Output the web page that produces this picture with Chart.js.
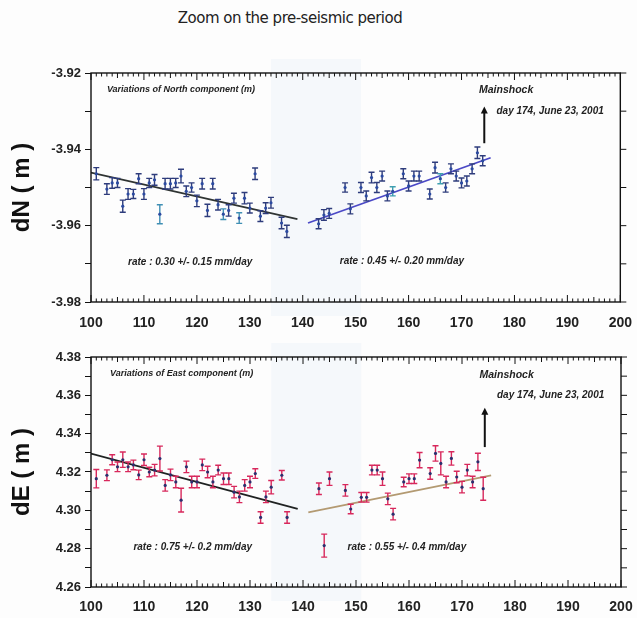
<!DOCTYPE html>
<html>
<head>
<meta charset="utf-8">
<script src="https://cdn.jsdelivr.net/npm/chart.js@4/dist/chart.umd.min.js"></script>
<style>
  body { margin: 0; background: #fdfdfd; }
  #wrap { position: relative; width: 637px; height: 618px; overflow: hidden; }
  #wrap canvas { position: absolute; left: 0; top: 0; }
  #title { position: absolute; left: 0; width: 580px; top: 9px; text-align: center;
           font: 15px "DejaVu Sans", sans-serif; color: #222; letter-spacing: -0.5px; }
</style>
</head>
<body>
<div id="wrap">
  <div id="title">Zoom on the pre-seismic period</div>
  <canvas id="north" width="637" height="618"></canvas>
  <canvas id="east" width="637" height="618"></canvas>
</div>
<script>
// days of year 2001 (before the gap / after the gap)
const daysL = [101,103,104,105,106,107,108,109,110,111,112,113,114,115,116,117,118,119,120,121,122,123,124,125,126,127,128,129,130,131,132,133,134,136,137]
const daysR = [143,144,145,148,149,151,152,153,154,155,156,157,159,160,161,162,164,165,166,167,168,169,170,171,172,173,174]

// North component (m) and error half-bars
const northL = [-3.9464,-3.9504,-3.9488,-3.9488,-3.9549,-3.9517,-3.9517,-3.9477,-3.9517,-3.9488,-3.9480,-3.9570,-3.9490,-3.9490,-3.9488,-3.9470,-3.9510,-3.9500,-3.9535,-3.9490,-3.9560,-3.9490,-3.9545,-3.9570,-3.9560,-3.9528,-3.9580,-3.9528,-3.9554,-3.9464,-3.9575,-3.9554,-3.9540,-3.9593,-3.9615]
const northErrL = [0.0016,0.0014,0.0014,0.0012,0.0016,0.0014,0.0012,0.0013,0.0014,0.0012,0.0014,0.0025,0.0014,0.0014,0.0012,0.0018,0.0014,0.0012,0.0015,0.0014,0.0016,0.0014,0.0014,0.0014,0.0015,0.0013,0.0014,0.0015,0.0013,0.0015,0.0014,0.0014,0.0014,0.0015,0.0016]
const northR = [-3.9595,-3.9572,-3.9568,-3.9500,-3.9556,-3.9500,-3.9522,-3.9474,-3.9500,-3.9470,-3.9522,-3.9510,-3.9464,-3.9496,-3.9470,-3.9470,-3.9517,-3.9448,-3.9477,-3.9500,-3.9451,-3.9470,-3.9488,-3.9483,-3.9451,-3.9409,-3.9430]
const northErrR = [0.0013,0.0014,0.0013,0.0012,0.0013,0.0013,0.0013,0.0014,0.0013,0.0013,0.0013,0.0012,0.0013,0.0013,0.0013,0.0013,0.0013,0.0014,0.0013,0.0012,0.0013,0.0013,0.0013,0.0013,0.0013,0.0015,0.0013]

// East component (m)
const eastL = [4.3165,4.3183,4.3264,4.3227,4.3264,4.3227,4.3237,4.3185,4.3264,4.3200,4.3210,4.3270,4.3130,4.3185,4.3148,4.3053,4.3227,4.3148,4.3148,4.3237,4.3200,4.3148,4.3210,4.3165,4.3165,4.3095,4.3070,4.3130,4.3148,4.3192,4.2963,4.3070,4.3121,4.3183,4.2963]
const eastErrL = [0.0048,0.0028,0.0026,0.0025,0.004,0.0025,0.0025,0.0025,0.003,0.0025,0.003,0.0065,0.003,0.003,0.003,0.0062,0.003,0.003,0.003,0.003,0.003,0.003,0.0025,0.003,0.003,0.003,0.003,0.003,0.003,0.0025,0.003,0.003,0.0035,0.0025,0.003]
const eastR = [4.3113,4.2816,4.3165,4.3104,4.3007,4.3068,4.3068,4.3210,4.3210,4.3165,4.3060,4.2980,4.3148,4.3165,4.3165,4.3262,4.3192,4.3297,4.3245,4.3148,4.3271,4.3174,4.3121,4.3210,4.3148,4.3253,4.3113]
const eastErrR = [0.003,0.006,0.0035,0.003,0.0025,0.0025,0.0025,0.0025,0.0025,0.0035,0.003,0.003,0.0025,0.0025,0.0025,0.004,0.003,0.004,0.006,0.003,0.0035,0.003,0.003,0.003,0.003,0.0045,0.006]

// linear fits (rates)
const fitDaysL = [100, 139]
const fitDaysR = [141, 175.5]
const northFitL = [-3.9461, -3.9583]
const northFitR = [-3.9593, -3.9422]
const eastFitL = [4.3296, 4.3007]
const eastFitR = [4.2989, 4.3183]

const xTicks = [100, 110, 120, 130, 140, 150, 160, 170, 180, 190, 200]
const mainshockDay = 174.3


function pts(xs, ys) {
    return xs.map((x, i) => ({ x: x, y: ys[i] }))
}

// error bars, ticks, frame, arrow and notes
const panelPlugin = {
    id: 'panel',
    beforeDatasetsDraw(chart) {
        const ctx = chart.ctx
        const xs = chart.scales.x
        const a = chart.chartArea
        ctx.save()
        ctx.fillStyle = 'rgba(205,222,240,0.16)'
        const x1 = xs.getPixelForValue(134), x2 = xs.getPixelForValue(151)
        ctx.fillRect(x1, a.top - 14, x2 - x1, a.bottom - a.top + 28)
        ctx.restore()
    },
    afterDatasetsDraw(chart, args, opts) {
        const ctx = chart.ctx
        const xs = chart.scales.x
        const ys = chart.scales.y
        const a = chart.chartArea
        ctx.save()

        // error bars
        opts.bars.forEach(b => {
            b.days.forEach((d, i) => {
                const x = xs.getPixelForValue(d)
                const y1 = ys.getPixelForValue(b.vals[i] - b.errs[i])
                const y2 = ys.getPixelForValue(b.vals[i] + b.errs[i])
                const y0 = ys.getPixelForValue(b.vals[i])
                ctx.strokeStyle = (b.alt && b.alt.includes(d)) ? b.altColor : b.color
                ctx.lineWidth = 1.4
                ctx.beginPath()
                ctx.moveTo(x, y1); ctx.lineTo(x, y2)
                ctx.moveTo(x - 3, y1); ctx.lineTo(x + 3, y1)
                ctx.moveTo(x - 3, y2); ctx.lineTo(x + 3, y2)
                ctx.stroke()
                ctx.fillStyle = b.dot
                ctx.beginPath()
                ctx.arc(x, y0, 1.6, 0, Math.PI * 2)
                ctx.fill()
            })
        })

        // frame
        ctx.strokeStyle = '#111'
        ctx.lineWidth = 1.4
        ctx.strokeRect(a.left, a.top, a.right - a.left, a.bottom - a.top)

        // day ticks on top and bottom edges (inside)
        ctx.lineWidth = 1
        ctx.beginPath()
        for (let d = 100; d <= 200; d++) {
            const x = xs.getPixelForValue(d)
            const len = d % 10 === 0 ? 7 : (d % 5 === 0 ? 5 : 3.5)
            ctx.moveTo(x, a.top); ctx.lineTo(x, a.top + len)
            ctx.moveTo(x, a.bottom); ctx.lineTo(x, a.bottom - len)
        }
        // right edge ticks (outside)
        ys.ticks.forEach(t => {
            const y = ys.getPixelForValue(t.value)
            ctx.moveTo(a.right, y); ctx.lineTo(a.right + 6, y)
        })
        ctx.stroke()

        // mainshock arrow
        const ax = xs.getPixelForValue(mainshockDay)
        const ay1 = ys.getPixelForValue(opts.arrow[0])
        const ay2 = ys.getPixelForValue(opts.arrow[1])
        ctx.lineWidth = 2
        ctx.beginPath()
        ctx.moveTo(ax, ay1); ctx.lineTo(ax, ay2 + 5)
        ctx.stroke()
        ctx.fillStyle = '#111'
        ctx.beginPath()
        ctx.moveTo(ax, ay2); ctx.lineTo(ax - 3.5, ay2 + 7); ctx.lineTo(ax + 3.5, ay2 + 7)
        ctx.closePath(); ctx.fill()

        // notes
        ctx.fillStyle = '#222'
        ctx.textBaseline = 'middle'
        opts.notes.forEach(n => {
            ctx.font = n.font || 'italic bold 9px "Liberation Sans", sans-serif'
            ctx.fillText(n.text, xs.getPixelForValue(n.x), ys.getPixelForValue(n.y))
        })
        ctx.restore()
    }
}

function makePanel(id, o) {
    const ctx = document.getElementById(id).getContext('2d')
    return new Chart(ctx, {
        type: 'scatter',
        data: {
            datasets: [
                { data: pts(fitDaysL, o.fitL), showLine: true, borderColor: o.lineL, borderWidth: 1.8, pointRadius: 0 },
                { data: pts(fitDaysR, o.fitR), showLine: true, borderColor: o.lineR, borderWidth: 1.8, pointRadius: 0 }
            ]
        },
        options: {
            responsive: false,
            animation: false,
            layout: { padding: o.padding },
            plugins: {
                legend: { display: false },
                tooltip: { enabled: false },
                panel: { bars: o.bars, notes: o.notes, arrow: o.arrow }
            },
            scales: {
                x: {
                    type: 'linear', min: 100, max: 200,
                    afterBuildTicks: s => { s.ticks = xTicks.map(v => ({ value: v })) },
                    grid: { display: false },
                    border: { display: false },
                    ticks: { padding: o.xPad, color: '#222', font: { family: 'Liberation Sans', size: 14, weight: 'bold' } },
                    afterFit: s => { s.height = 30 }
                },
                y: {
                    min: o.min, max: o.max,
                    ticks: {
                        stepSize: 0.01, padding: 4, color: '#222',
                        font: { family: 'Liberation Sans', size: 13, weight: 'bold' },
                        callback: v => Math.round(v * 100) % 2 === 0 ? v.toFixed(2) : ''
                    },
                    grid: { drawOnChartArea: false, tickLength: 6, color: '#111', lineWidth: 1 },
                    border: { display: false },
                    title: {
                        display: true, text: o.yTitle, color: '#111',
                        font: { family: 'Liberation Sans', size: 24, weight: 'bold' },
                        padding: { top: 8, bottom: 0 }
                    },
                    afterFit: s => { s.width = 91 }
                }
            }
        },
        plugins: [panelPlugin]
    })
}

const smallFont = 'italic bold 10px "Liberation Sans", sans-serif'

makePanel('north', {
    min: -3.98, max: -3.92,
    padding: { top: 73, right: 16, bottom: 286, left: 0 },
    xPad: 5,
    yTitle: 'dN ( m )',
    fitL: northFitL, fitR: northFitR,
    lineL: '#2f3433', lineR: '#4b49c6',
    bars: [
        { days: daysL, vals: northL, errs: northErrL, color: '#2e3c7c', dot: '#2b4aa0', alt: [113, 125, 128], altColor: '#3f8fb4' },
        { days: daysR, vals: northR, errs: northErrR, color: '#2e3c7c', dot: '#2b4aa0', alt: [157, 166], altColor: '#3f9fb0' }
    ],
    arrow: [-3.9384, -3.9288],
    notes: [
        { text: 'Variations of North component (m)', x: 103, y: -3.9242 },
        { text: 'Mainshock', x: 173.3, y: -3.9244, font: 'italic bold 10.5px "Liberation Sans", sans-serif' },
        { text: 'day 174, June 23, 2001', x: 176.6, y: -3.9300, font: smallFont },
        { text: 'rate : 0.30 +/- 0.15 mm/day', x: 107, y: -3.9695, font: smallFont },
        { text: 'rate : 0.45 +/- 0.20 mm/day', x: 147, y: -3.9692, font: smallFont }
    ]
})

makePanel('east', {
    min: 4.26, max: 4.38,
    padding: { top: 357, right: 16, bottom: 1, left: 0 },
    xPad: 4,
    yTitle: 'dE ( m )',
    fitL: eastFitL, fitR: eastFitR,
    lineL: '#1f2222', lineR: '#b39a72',
    bars: [
        { days: daysL, vals: eastL, errs: eastErrL, color: '#d8285c', dot: '#2b2f6e' },
        { days: daysR, vals: eastR, errs: eastErrR, color: '#d8285c', dot: '#2b2f6e' }
    ],
    arrow: [4.3330, 4.3535],
    notes: [
        { text: 'Variations of East component (m)', x: 103.6, y: 4.3712 },
        { text: 'Mainshock', x: 173.3, y: 4.3708, font: 'italic bold 10.5px "Liberation Sans", sans-serif' },
        { text: 'day 174, June 23, 2001', x: 176.6, y: 4.3600, font: smallFont },
        { text: 'rate : 0.75 +/- 0.2 mm/day', x: 108, y: 4.2810, font: smallFont },
        { text: 'rate : 0.55 +/- 0.4 mm/day', x: 148.4, y: 4.2810, font: smallFont }
    ]
})
</script>
</body>
</html>
